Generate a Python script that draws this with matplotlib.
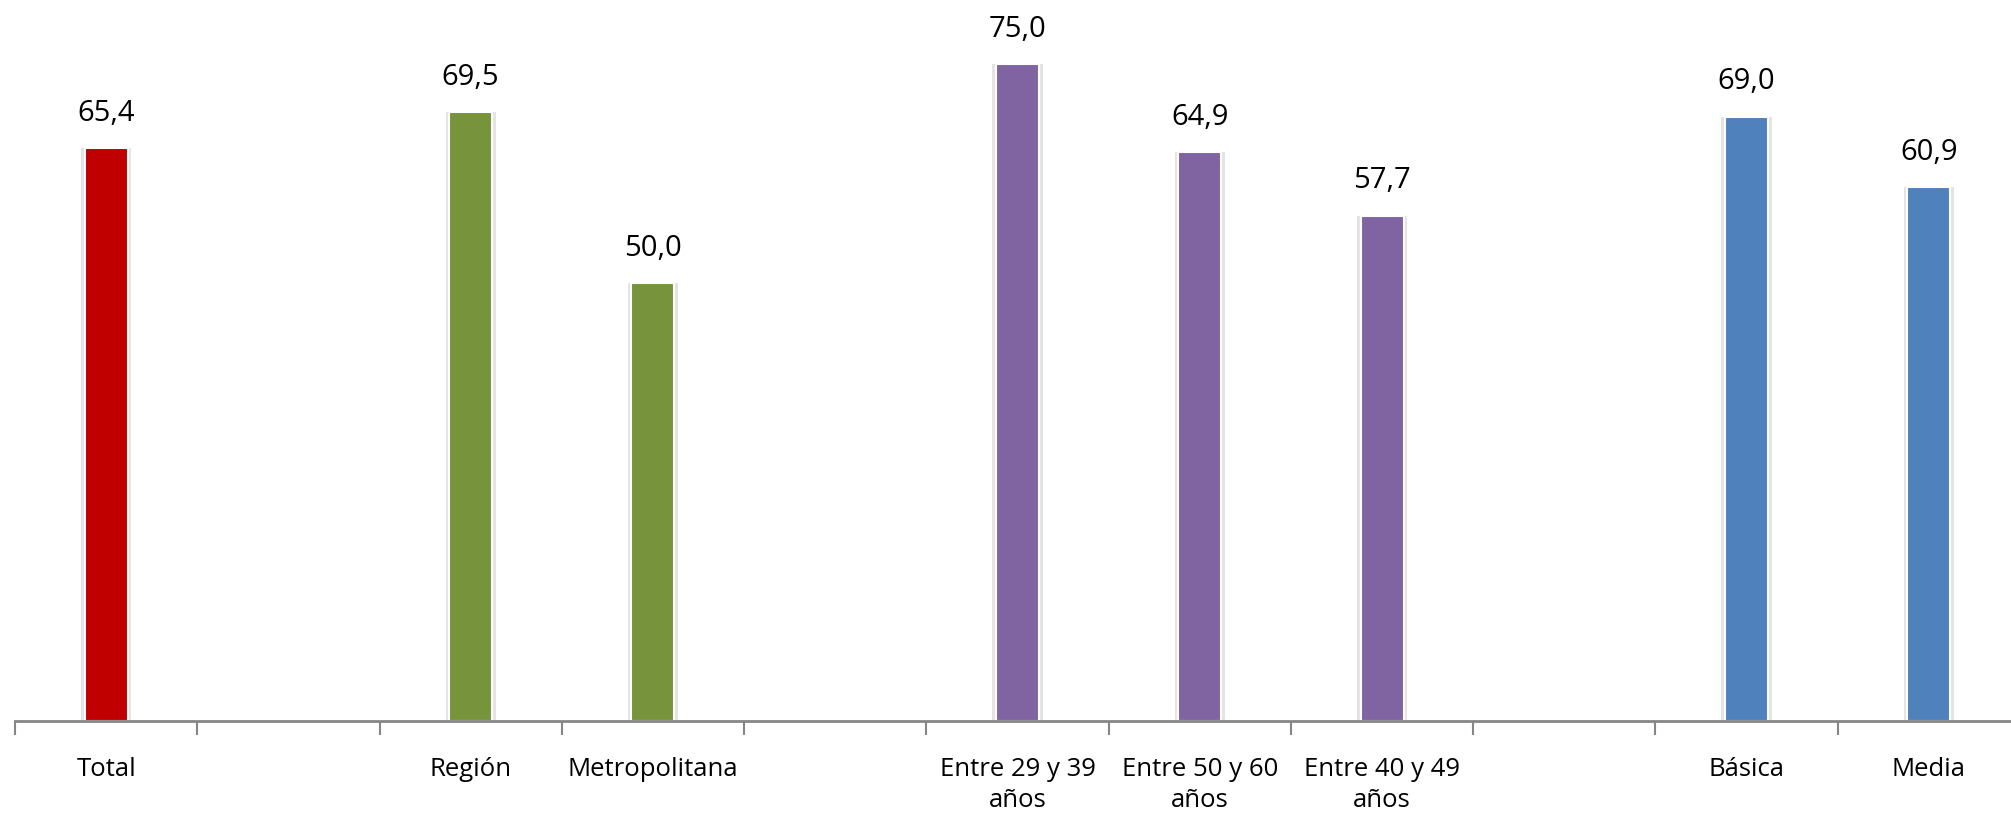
import matplotlib.pyplot as plt
import numpy as np

plt.rcParams['font.family'] = ['Open Sans', 'DejaVu Sans']

# categories (empty strings are the gaps between groups)
categories = ['Total', '', 'Región', 'Metropolitana', '',
              'Entre 29 y 39\naños', 'Entre 50 y 60\naños', 'Entre 40 y 49\naños', '',
              'Básica', 'Media']
values = [65.4, None, 69.5, 50.0, None, 75.0, 64.9, 57.7, None, 69.0, 60.9]
colors = ['#C00000', None, '#77933C', '#77933C', None,
          '#8064A2', '#8064A2', '#8064A2', None, '#4F81BD', '#4F81BD']

fig = plt.figure(figsize=(20.11, 8.16), dpi=100)
ax = fig.add_axes([15 / 2011, 95 / 816, 2005 / 2011, 721 / 816])

x = np.arange(len(categories))
w = 0.236
for xi, v, c in zip(x, values, colors):
    if v is None:
        continue
    # soft shadow behind each bar
    ax.bar(xi, v, width=w + 0.04, color='#e4e4e4', edgecolor='none', zorder=1)
    ax.bar(xi, v, width=w, color=c, edgecolor='white', linewidth=1.5, zorder=2)
    ax.text(xi, v + 2.3, f'{v:.1f}'.replace('.', ','), ha='center', va='bottom',
            fontsize=21, color='black')

ax.set_xlim(-0.5, len(categories) - 0.5)
ax.set_ylim(0, 82.3)

for s in ['top', 'right', 'left']:
    ax.spines[s].set_visible(False)
ax.spines['bottom'].set_color('#868686')
ax.spines['bottom'].set_linewidth(2)
ax.set_yticks([])

ax.set_xticks(x)
ax.set_xticklabels(categories, fontsize=18.5, linespacing=1.3)
ax.tick_params(axis='x', which='major', length=0, pad=26)
ax.set_xticks(np.arange(len(categories) + 1) - 0.5, minor=True)
ax.tick_params(axis='x', which='minor', length=10, width=1.5, color='#868686')

fig.savefig('out.png', dpi=100)
